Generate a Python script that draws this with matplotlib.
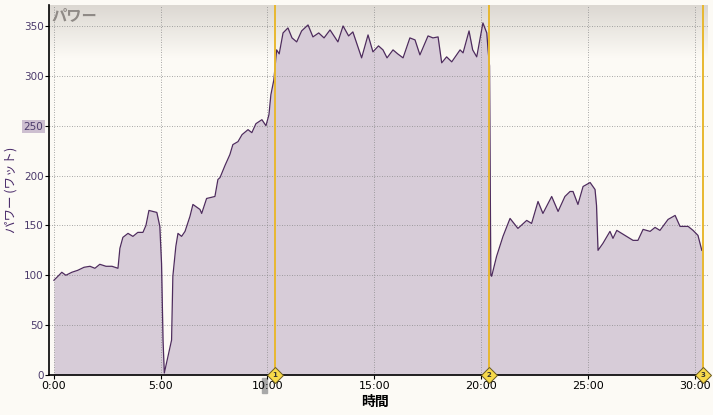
import numpy as np
import matplotlib
matplotlib.use('Agg')
import matplotlib.pyplot as plt
import matplotlib.patches as patches

plt.rcParams['font.family'] = ['Noto Sans CJK JP', 'DejaVu Sans']

# elapsed time (minutes) and power (watts)
time_min = [0.00, 0.19, 0.37, 0.56, 0.84, 1.12, 1.41, 1.69, 1.92, 2.15, 2.44, 2.72, 3.00,
            3.09, 3.23, 3.47, 3.70, 3.93, 4.17, 4.31, 4.45, 4.64, 4.82, 4.96, 5.04, 5.11,
            5.17, 5.51, 5.57, 5.71, 5.81, 5.98, 6.14, 6.37, 6.51, 6.84, 6.92, 7.15, 7.54,
            7.68, 7.78, 8.01, 8.24, 8.38, 8.62, 8.81, 9.09, 9.27, 9.46, 9.74, 9.93, 10.07,
            10.16, 10.30, 10.43, 10.55, 10.73, 10.96, 11.15, 11.37, 11.60, 11.90, 12.13,
            12.40, 12.65, 12.93, 13.30, 13.54, 13.80, 14.00, 14.41, 14.71, 14.94, 15.20,
            15.41, 15.60, 15.88, 16.10, 16.35, 16.67, 16.91, 17.14, 17.52, 17.75, 17.99,
            18.16, 18.39, 18.63, 19.02, 19.16, 19.44, 19.61, 19.80, 20.09, 20.27, 20.33,
            20.40, 20.46, 20.50, 20.73, 21.03, 21.36, 21.73, 22.14, 22.37, 22.67, 22.90,
            23.31, 23.61, 23.93, 24.17, 24.31, 24.54, 24.78, 25.11, 25.34, 25.41, 25.48,
            25.71, 26.04, 26.18, 26.36, 26.82, 27.12, 27.35, 27.59, 27.92, 28.15, 28.38,
            28.76, 29.09, 29.32, 29.70, 29.93, 30.16, 30.34]
power_w = [95, 99, 103, 100, 103, 105, 108, 109, 107, 111, 109, 109, 107,
           127, 138, 142, 139, 143, 143, 150, 165, 164, 163, 149, 112, 35,
           2, 35, 99, 129, 142, 139, 144, 159, 171, 166, 162, 177, 179,
           196, 198, 210, 221, 231, 234, 241, 246, 243, 252, 256, 250, 261,
           281, 296, 326, 322, 343, 348, 338, 334, 345, 351, 339,
           343, 338, 346, 334, 350, 340, 344, 318, 341, 324, 330,
           326, 318, 326, 322, 318, 338, 336, 321, 340, 338, 339,
           313, 319, 314, 326, 323, 345, 326, 319, 353, 343, 326,
           310, 100, 99, 119, 139, 157, 147, 155, 152, 174, 162,
           179, 164, 179, 184, 184, 171, 189, 193, 186, 170, 125,
           132, 144, 137, 145, 139, 135, 135, 146, 144, 148, 145,
           156, 160, 149, 149, 145, 140, 125]

lap_times = [10.35, 20.37, 30.40]
lap_labels = ['1', '2', '3']
x_ticks = [0, 5, 10, 15, 20, 25, 30]
x_tick_labels = ['0:00', '5:00', '10:00', '15:00', '20:00', '25:00', '30:00']
y_ticks = [0, 50, 100, 150, 200, 250, 300, 350]

bg = '#fcfaf5'
fig = plt.figure(figsize=(7.13, 4.15), dpi=100, facecolor=bg)

# grey slider mark under 10:00
fig.add_artist(patches.Rectangle((262 / 713, (415 - 393) / 415), 5 / 713, 15 / 415,
                                 transform=fig.transFigure, color='#a8a8a8', zorder=-1))

ax = fig.add_axes([49 / 713, 40 / 415, 659 / 713, 370 / 415])
ax.set_facecolor(bg)
ax.set_xlim(-0.23, 30.63)
ax.set_ylim(0, 371)

# grey gradient band across the top of the plot
grad = np.linspace(0, 1, 64).reshape(-1, 1)
ax.imshow(grad, cmap=matplotlib.colors.LinearSegmentedColormap.from_list('band', ['#dcd8d2', bg]),
          extent=(-0.23, 30.63, 318, 371), aspect='auto', zorder=0)

ax.fill_between(time_min, power_w, 0, color='#d7ccd8', zorder=2, linewidth=0)
ax.plot(time_min, power_w, color='#4e2c5e', linewidth=0.9, zorder=3)

for t in x_ticks:
    ax.axvline(t, color='#8a8a8a', linestyle=(0, (1, 2)), linewidth=0.6, zorder=2.5)
for v in y_ticks[1:]:
    ax.axhline(v, color='#8a8a8a', linestyle=(0, (1, 2)), linewidth=0.6, zorder=2.5)

# lap markers
for t, lab in zip(lap_times, lap_labels):
    ax.axvline(t, color='#e8b830', linewidth=1.4, zorder=4)
    ax.plot([t], [0], marker='D', markersize=8, markerfacecolor='#f6d94a',
            markeredgecolor='#6a5a20', markeredgewidth=0.7, zorder=6, clip_on=False)
    ax.text(t, 0, lab, fontsize=5, ha='center', va='center', zorder=7,
            family='DejaVu Sans', weight='bold', color='#333333')

for side in ['top', 'right']:
    ax.spines[side].set_visible(False)
ax.spines['left'].set_linewidth(1.2)
ax.spines['bottom'].set_linewidth(1.2)
ax.spines['bottom'].set_bounds(-0.23, 30.45)

ax.set_xticks(x_ticks)
ax.set_xticklabels(x_tick_labels, fontsize=8, family='DejaVu Sans', color='black')
ax.set_yticks(y_ticks)
ax.set_yticklabels([str(v) for v in y_ticks], fontsize=7.5, family='DejaVu Sans', color='#4b3a6b')
ax.tick_params(axis='both', length=3, width=0.8, pad=1)
# highlight behind the 250 label
ax.get_yticklabels()[5].set_bbox(dict(facecolor='#cdbfd0', edgecolor='none', pad=1.2))

ax.set_xlabel('時間', fontsize=10, weight='bold')
ax.xaxis.set_label_coords((375 - 49) / 659, -0.055)
ax.set_ylabel('パワー (ワット)', fontsize=9, color='#4b2c6b')
ax.yaxis.set_label_coords(-0.047, 0.5)
ax.text(0.004, 0.995, 'パワー', transform=ax.transAxes, fontsize=11, style='italic',
        weight='bold', color='#8f8a86', ha='left', va='top', zorder=5)

fig.savefig('out.png', dpi=100, facecolor=bg)
